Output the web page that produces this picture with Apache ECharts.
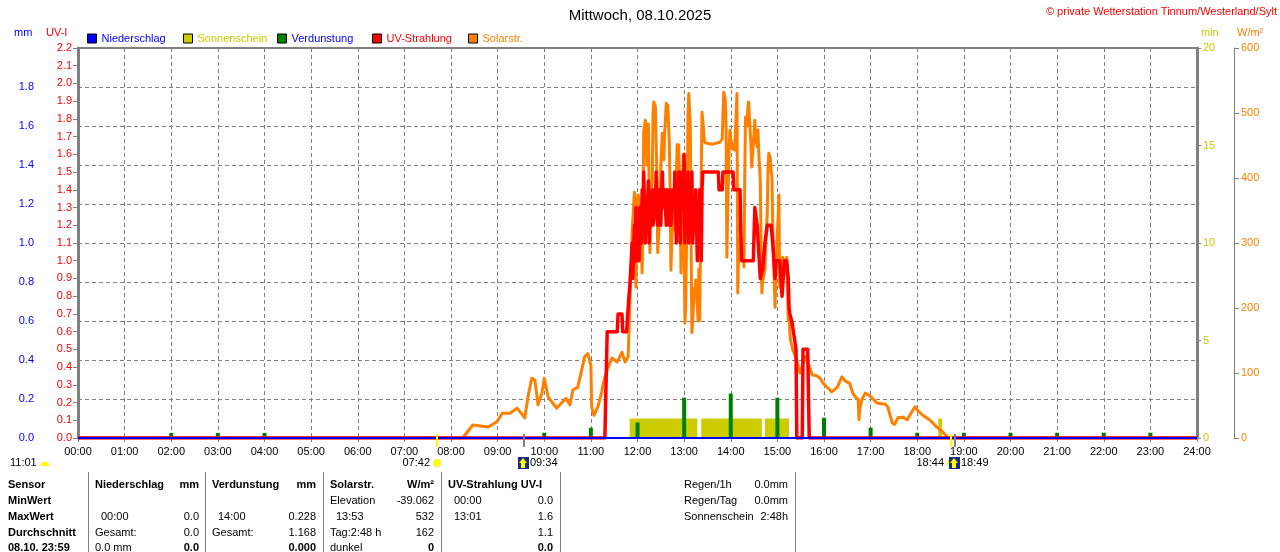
<!DOCTYPE html>
<html>
<head>
<meta charset="utf-8">
<script src="https://cdn.jsdelivr.net/npm/echarts@6/dist/echarts.min.js"></script>
<style>
html,body{margin:0;padding:0;background:#fff;}
#chart{width:1280px;height:552px;}
</style>
</head>
<body>
<div id="chart"></div>
<script>
// ---------- DATA (times in minutes after midnight) ----------
const chartTitle = 'Mittwoch, 08.10.2025';
const copyright = '\u00A9 private Wetterstation Tinnum/Westerland/Sylt';
const seriesNames = ['Niederschlag', 'Sonnenschein', 'Verdunstung', 'UV-Strahlung', 'Solarstr.'];
const axisUnits = ['mm', 'UV-I', 'min', 'W/m\u00B2'];
const hourTicks = [0,60,120,180,240,300,360,420,480,540,600,660,720,780,840,900,960,1020,1080,1140,1200,1260,1320,1380,1440];

// Niederschlag (mm) per hour
const rainValues = [0,0,0,0,0,0,0,0,0,0,0,0,0,0,0,0,0,0,0,0,0,0,0,0,0];

// Verdunstung (mm) per hour 00..23
const evapValues = [0,0,0.026,0.026,0.026,0,0,0,0,0,0.027,0.053,0.080,0.207,0.228,0.207,0.104,0.053,0.027,0.027,0.027,0.027,0.027,0.027];

// Sonnenschein (min) intervals [start, end]
const sunStart = [710, 802, 884, 1107];
const sunEnd   = [797, 880, 915, 1112];

// Solarstrahlung [minute, W/m2]
const solarReadings = [
[0,0],[495,0],[508,20],[528,17],[539,25],[546,38],[556,38],[565,46],[575,31],[579,63],
[584,92],[588,89],[592,51],[597,69],[600,92],[605,63],[610,55],[616,46],[623,55],[628,61],
[633,51],[637,74],[643,78],[649,109],[652,125],[656,130],[660,112],[661,48],[664,35],[669,48],
[674,71],[676,85],[681,105],[687,123],[694,117],[700,132],[704,117],[708,125],[710,200],[713,315],
[716,378],[717,370],[718,232],[719,300],[721,374],[723,360],[725,290],[726,254],[727,350],[728,470],
[730,489],[731,480],[732,420],[734,483],[735,380],[736,285],[737,330],[739,400],[740,500],[741,517],
[743,510],[744,513],[745,400],[746,285],[748,330],[749,350],[750,420],[752,469],[753,440],[754,428],
[755,470],[757,515],[758,505],[759,512],[761,451],[762,380],[763,258],[764,300],[766,355],[767,320],
[770,400],[771,451],[772,440],[773,451],[775,350],[776,254],[777,330],[779,435],[780,300],[781,177],
[782,200],[784,380],[785,500],[786,530],[788,480],[789,300],[790,162],[791,180],[793,230],[794,220],
[795,243],[797,240],[798,180],[799,260],[800,181],[802,400],[803,501],[804,489],[806,458],[807,454],
[816,452],[826,455],[829,460],[830,500],[831,532],[833,520],[834,480],[835,278],[836,350],[838,450],
[839,474],[840,460],[842,445],[843,443],[845,443],[847,500],[848,530],[849,223],[850,280],[852,290],
[853,309],[854,300],[856,290],[857,263],[858,400],[859,494],[861,480],[862,510],[863,517],[865,515],
[866,450],[867,417],[869,420],[870,470],[871,489],[872,460],[874,448],[875,474],[876,440],[878,397],
[879,300],[880,223],[881,240],[883,237],[884,260],[885,300],[887,346],[888,420],[889,438],[891,430],
[892,410],[893,402],[894,330],[896,240],[897,201],[898,250],[900,315],[901,340],[902,374],[903,232],
[905,260],[906,270],[907,278],[909,260],[910,254],[911,270],[912,278],[914,181],[915,200],[916,162],
[917,150],[920,135],[925,120],[929,100],[936,125],[939,117],[945,97],[950,96],[955,92],[959,84],
[965,77],[970,71],[977,78],[983,94],[987,88],[990,86],[993,84],[997,69],[1001,62],[1004,60],
[1005,28],[1006,45],[1009,60],[1013,69],[1019,65],[1028,54],[1039,52],[1042,48],[1045,35],[1048,23],
[1051,21],[1055,31],[1062,32],[1067,28],[1073,40],[1077,48],[1081,42],[1087,35],[1096,28],[1105,17],
[1113,9],[1120,0],[1440,0]
];

// UV-Strahlung [minute, UV-I]
const uvReadings = [
[0,0],[678,0],[681,0.6],[694,0.6],[695,0.7],[700,0.7],[701,0.6],[706,0.6],[709,0.8],[710,0.85],
[712,1.0],[713,1.1],[714,0.9],[716,1.2],[717,1.0],[718,1.3],[719,1.0],[721,1.2],[722,1.0],[723,1.3],
[725,1.1],[726,1.4],[727,1.2],[728,1.5],[730,1.1],[731,1.3],[732,1.2],[734,1.45],[735,1.1],[736,1.3],
[737,1.2],[739,1.4],[740,1.2],[743,1.3],[744,1.5],[745,1.5],[746,1.2],[748,1.3],[749,1.4],[750,1.2],
[752,1.5],[753,1.3],[755,1.4],[757,1.2],[758,1.4],[759,1.3],[761,1.2],[762,1.4],[763,1.2],[766,1.4],
[767,1.3],[768,1.5],[770,1.1],[771,1.4],[772,1.2],[773,1.5],[775,1.1],[776,1.3],[777,1.5],[779,1.3],
[780,1.6],[781,1.1],[782,1.4],[784,1.2],[785,1.5],[786,1.1],[788,1.4],[789,1.3],[790,1.5],[791,1.1],
[793,1.3],[794,1.2],[795,1.4],[797,1.0],[798,1.3],[799,1.1],[800,1.4],[802,1.0],[803,1.4],[804,1.5],
[824,1.5],[825,1.4],[829,1.4],[830,1.5],[843,1.5],[844,1.4],[852,1.4],[853,1.15],[854,1.0],[869,1.0],
[871,1.3],[874,1.2],[875,1.2],[878,0.9],[880,0.9],[881,0.95],[884,1.1],[887,1.2],[892,1.2],[894,1.1],
[897,0.9],[898,1.0],[903,1.0],[906,0.8],[909,1.0],[912,1.0],[914,0.9],[915,0.74],[916,0.7],[919,0.65],
[921,0.59],[924,0.5],[925,0],[932,0],[933,0.5],[939,0.5],[941,0],[1440,0]
];

// Sun / moon events below the time axis
const eventTimes = ['07:42', '09:34', '18:44', '18:49'];
const eventKinds = ['sunrise', 'moon', 'sunset', 'moon'];
const dayLength = '11:01';

// Table texts
const tableLabels = ['Sensor', 'MinWert', 'MaxWert', 'Durchschnitt', '08.10. 23:59'];
const rainCol  = [['Niederschlag','mm'], ['',''], ['00:00','0.0'], ['Gesamt:','0.0'], ['0.0 mm','0.0']];
const evapCol  = [['Verdunstung','mm'], ['',''], ['14:00','0.228'], ['Gesamt:','1.168'], ['','0.000']];
const solarCol = [['Solarstr.','W/m\u00B2'], ['Elevation','-39.062'], ['13:53','532'], ['Tag:2:48 h','162'], ['dunkel','0']];
const uvCol    = [['UV-Strahlung UV-I',''], ['00:00','0.0'], ['13:01','1.6'], ['','1.1'], ['','0.0']];
const summaryLabels = ['Regen/1h', 'Regen/Tag', 'Sonnenschein'];
const summaryValues = ['0.0mm', '0.0mm', '2:48h'];

// ---------- STYLE / LAYOUT ----------
const FONT = '"Liberation Sans", Arial, sans-serif';
const GRID = '#808080';
const C_RAIN = '#0000ff', C_SUN = '#cccc00', C_EVAP = '#008000', C_UV = '#ff0000', C_SOL = '#ff8000';
const legendLefts = [87, 183, 277, 372, 468];
const legendTextColors = [C_RAIN, C_SUN, C_RAIN, C_UV, C_SOL];
const legendIconColors = [C_RAIN, C_SUN, C_EVAP, C_UV, C_SOL];
const unitX = [14, 46, 1201, 1237];
const unitColors = [C_RAIN, C_UV, C_SUN, C_SOL];

const hm = s => { const p = s.split(':'); return (+p[0]) * 60 + (+p[1]); };
const pad2 = n => String(n).padStart(2, '0');

const sunData = [];
sunStart.forEach((s, i) => { sunData.push([s, 0], [s, 1], [sunEnd[i], 1], [sunEnd[i], 0]); });

const chart = echarts.init(document.getElementById('chart'), null, {renderer: 'canvas'});

// graphics: units, table, day length
const graphics = [];
const txt = (text, x, y, align, bold, color) => graphics.push({
  type: 'text', silent: true,
  style: {text: text, x: x, y: y, align: align, verticalAlign: 'middle',
          font: (bold ? 'bold ' : '') + '11px ' + FONT, fill: color || '#000'}
});
axisUnits.forEach((u, i) => txt(u, unitX[i], 33, 'left', false, unitColors[i]));
const rowY = [485, 501, 517, 533, 548];
const colPos = [[95, 199], [212, 316], [330, 434], [448, 553]];
[88, 205, 323, 441, 560, 795].forEach(x => graphics.push({
  type: 'line', silent: true, shape: {x1: x + 0.5, y1: 472, x2: x + 0.5, y2: 552}, style: {stroke: GRID, lineWidth: 1}
}));
tableLabels.forEach((t, r) => txt(t, 8, rowY[r], 'left', true));
[rainCol, evapCol, solarCol, uvCol].forEach((col, c) => {
  col.forEach((cell, r) => {
    const isTime = /^\d\d:\d\d$/.test(cell[0]);
    if (cell[0]) txt(cell[0], colPos[c][0] + (isTime ? 6 : 0), rowY[r], 'left', r === 0);
    if (cell[1]) txt(cell[1], colPos[c][1], rowY[r], 'right', r === 0 || r === 4);
  });
});
summaryLabels.forEach((t, r) => { txt(t, 684, rowY[r], 'left', false); txt(summaryValues[r], 788, rowY[r], 'right', false); });
txt(dayLength, 10, 463, 'left', false);
graphics.push({type: 'sector', silent: true, shape: {cx: 45, cy: 466, r0: 0, r: 4.5, startAngle: Math.PI, endAngle: 2 * Math.PI}, style: {fill: '#ffff00'}});

const option = {
  animation: false,
  backgroundColor: '#fff',
  textStyle: {fontFamily: FONT},
  title: [
    {text: chartTitle, left: 'center', top: 8, padding: 0, textStyle: {fontSize: 15, fontWeight: 'normal', color: '#000', fontFamily: FONT}},
    {text: copyright, right: 3, top: 6, padding: 0, textStyle: {fontSize: 11, fontWeight: 'normal', color: '#ff0000', fontFamily: FONT}}
  ],
  legend: seriesNames.map((n, i) => ({
    data: [{name: n, icon: 'rect',
            itemStyle: {color: legendIconColors[i], borderColor: '#000', borderWidth: 1},
            textStyle: {color: legendTextColors[i]}}],
    left: legendLefts[i], top: 33, padding: 0, itemWidth: 9, itemHeight: 9,
    selectedMode: false,
    textStyle: {fontSize: 11, fontFamily: FONT}
  })),
  grid: {left: 78, right: 83, top: 48, bottom: 114, show: true, borderColor: GRID, borderWidth: 2, backgroundColor: 'transparent'},
  xAxis: {
    type: 'value', min: 0, max: 1440, interval: 60,
    axisLine: {show: true, lineStyle: {color: GRID, width: 2}},
    axisTick: {show: true, length: 4, lineStyle: {color: GRID}},
    axisLabel: {color: '#000', fontSize: 11, margin: 8, fontFamily: FONT,
                formatter: v => pad2(Math.round(v / 60)) + ':00'},
    splitLine: {show: true, lineStyle: {color: GRID, type: [4, 3], width: 1}}
  },
  yAxis: [
    { // mm
      type: 'value', position: 'left', offset: 38, min: 0, max: 2.0, interval: 0.2,
      axisLine: {show: true, lineStyle: {color: GRID, width: 2}},
      axisTick: {show: true, inside: true, length: 4, lineStyle: {color: GRID}},
      axisLabel: {color: C_RAIN, fontSize: 11, margin: 6, showMaxLabel: false, fontFamily: FONT, formatter: v => v.toFixed(1)},
      splitLine: {show: true, lineStyle: {color: GRID, type: [4, 3], width: 1}}
    },
    { // UV-I
      type: 'value', position: 'left', offset: 0, min: 0, max: 2.2, interval: 0.1,
      axisLine: {show: true, lineStyle: {color: GRID, width: 3}},
      axisTick: {show: true, length: 5, lineStyle: {color: GRID}},
      axisLabel: {color: C_UV, fontSize: 11, margin: 6, fontFamily: FONT, formatter: v => v.toFixed(1)},
      splitLine: {show: false}
    },
    { // Sonnenschein min
      type: 'value', position: 'right', offset: 0, min: 0, max: 20, interval: 5,
      axisLine: {show: true, lineStyle: {color: GRID, width: 3}},
      axisTick: {show: true, length: 4, lineStyle: {color: GRID}},
      axisLabel: {color: C_SUN, fontSize: 11, margin: 6, fontFamily: FONT},
      splitLine: {show: false}
    },
    { // Solar W/m2
      type: 'value', position: 'right', offset: 37, min: 0, max: 600, interval: 100,
      axisLine: {show: true, lineStyle: {color: GRID, width: 1}},
      axisTick: {show: true, length: 5, lineStyle: {color: GRID}},
      axisLabel: {color: C_SOL, fontSize: 11, margin: 7, fontFamily: FONT},
      splitLine: {show: false}
    }
  ],
  series: [
    {
      name: 'Sonnenschein', type: 'line', xAxisIndex: 0, yAxisIndex: 2, data: sunData,
      color: C_SUN, symbol: 'none', lineStyle: {width: 0}, areaStyle: {color: C_SUN, opacity: 1}, z: 1, silent: true
    },
    {
      name: 'Verdunstung', type: 'bar', xAxisIndex: 0, yAxisIndex: 0,
      data: evapValues.map((v, i) => [hourTicks[i], v]),
      color: C_EVAP, barWidth: 4, itemStyle: {color: C_EVAP}, z: 2, silent: true
    },
    {
      name: 'Solarstr.', type: 'line', xAxisIndex: 0, yAxisIndex: 3, data: solarReadings,
      color: C_SOL, symbol: 'none', lineStyle: {width: 3, color: C_SOL, join: 'round'}, z: 3, silent: true
    },
    {
      name: 'UV-Strahlung', type: 'line', xAxisIndex: 0, yAxisIndex: 1, data: uvReadings,
      color: C_UV, symbol: 'none', lineStyle: {width: 3.5, color: C_UV, join: 'round'}, z: 4, silent: true
    },
    {
      name: 'Niederschlag', type: 'line', xAxisIndex: 0, yAxisIndex: 0,
      data: rainValues.map((v, i) => [hourTicks[i], v]),
      color: C_RAIN, symbol: 'none', lineStyle: {width: 2, color: C_RAIN}, z: 5, silent: true
    },
    {
      name: 'events', type: 'custom', coordinateSystem: 'cartesian2d', xAxisIndex: 0, yAxisIndex: 0,
      clip: false, silent: true, z: 6,
      encode: {x: 0, y: 1},
      data: eventTimes.map((t, i) => [hm(t), 0, i]),
      renderItem: function (params, api) {
        const i = api.value(2);
        const p = api.coord([api.value(0), 0]);
        const x = Math.round(p[0]), y = p[1];
        const kind = eventKinds[i];
        const isSun = kind === 'sunrise' || kind === 'sunset';
        const ty = y + 25;
        const children = [{
          type: 'line', shape: {x1: x, y1: y - 4, x2: x, y2: y + 9},
          style: {stroke: isSun ? '#ffff00' : GRID, lineWidth: 2}
        }];
        if (isSun) {
          children.push({type: 'text', style: {text: eventTimes[i], x: x - 7, y: ty, align: 'right', verticalAlign: 'middle', font: '11px ' + FONT, fill: '#000'}});
          children.push({type: 'circle', shape: {cx: x, cy: ty, r: 4}, style: {fill: '#ffff00', stroke: '#eeee88', lineWidth: 1}});
        } else {
          children.push({type: 'rect', shape: {x: x - 6, y: ty - 6, width: 11, height: 12}, style: {fill: '#1a2a80'}});
          children.push({type: 'polygon', shape: {points: [[x - 1, ty - 5], [x + 3, ty], [x + 1, ty], [x + 1, ty + 5], [x - 3, ty + 5], [x - 3, ty], [x - 5, ty]]}, style: {fill: '#ffff00'}});
          children.push({type: 'text', style: {text: eventTimes[i], x: x + 6, y: ty, align: 'left', verticalAlign: 'middle', font: '11px ' + FONT, fill: '#000'}});
        }
        return {type: 'group', children: children};
      }
    }
  ],
  graphic: graphics
};
chart.setOption(option);
</script>
</body>
</html>
